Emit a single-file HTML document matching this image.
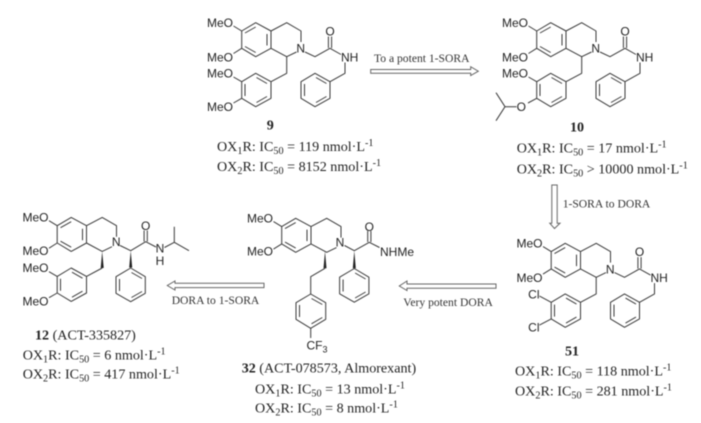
<!DOCTYPE html>
<html>
<head>
<meta charset="utf-8">
<style>
html,body{margin:0;padding:0;background:#fff;width:701px;height:423px;overflow:hidden}
svg{display:block;filter:blur(0.4px)}
.b{fill:none;stroke:#3a3a3a;stroke-width:1;stroke-linejoin:round}
.a{fill:#fff;stroke:#666;stroke-width:1}
.s{font-family:"Liberation Sans",sans-serif;font-size:12px;fill:#222}
.t{font-family:"Liberation Serif",serif;font-size:14.1px;fill:#222}
.l{font-family:"Liberation Serif",serif;font-size:11.6px;fill:#333}
.n{font-weight:bold}
.u{font-size:10.2px}
</style>
</head>
<body>
<svg width="701" height="423" viewBox="0 0 701 423" xmlns="http://www.w3.org/2000/svg">
<defs>
<g id="core" class="b">
<path d="M241.7 31L255.7 22.7L271 31L271 48.3L255.7 56.7L241.7 48.3Z"/>
<path d="M245 33L255.7 27M267 34L267 45.5M245 46.5L255.7 52.5"/>
<path d="M271 31L286.7 22.7L301 31L301 42M296.5 52L286.7 56.7L271 48.3"/>
<path d="M233.5 26L241.7 31M233.5 53.5L241.7 48.3"/>
</g>
<g id="ringC" class="b">
<path d="M271 81.7L255.7 73.3L241.7 81.7L241.7 98.3L255.7 106.7L271 98.3Z"/>
<path d="M245 84L245 96M256.5 77.5L267 83.5M256.5 102.5L267 96.5"/>
</g>
<g id="arm" class="b"><path d="M286.7 56.7L286.7 73.3L271 81.7"/></g>
<g id="tail" class="b">
<path d="M305 52L315 56.7L330 48.3L341 54.5"/>
<path d="M328.4 48L328.4 36.5M331.6 48L331.6 36.5"/>
<path d="M345 62.5L345 73.3L330 81.7"/>
<path d="M330 81.7L315 73.3L301 81.7L301 98.3L315 106.7L330 98.3Z"/>
<path d="M304.5 84L304.5 96M316 77.5L326.5 83.5M316 102.5L326.5 96.5"/>
</g>
<g id="ph" class="b">
<path d="M145.3 276.7L130.7 268L116 276.7L116 293.3L130.7 301.7L145.3 293.3Z"/>
<path d="M119.5 279L119.5 291M131.5 272.5L142 278.5M131.5 297.5L142 291.5"/>
</g>
</defs>

<!-- compound 9 -->
<use href="#core"/><use href="#ringC"/><use href="#arm"/><use href="#tail"/>
<path class="b" d="M233.5 77L241.7 81.7M233.5 103L241.7 98.3"/>
<text class="s" x="233" y="27" text-anchor="end">MeO</text>
<text class="s" x="233" y="61.5" text-anchor="end">MeO</text>
<text class="s" x="233" y="77.5" text-anchor="end">MeO</text>
<text class="s" x="233" y="111" text-anchor="end">MeO</text>
<text class="s" x="300.7" y="52.7" text-anchor="middle">N</text>
<text class="s" x="330" y="35.4" text-anchor="middle">O</text>
<text class="s" x="341" y="61.5">NH</text>

<!-- compound 10 -->
<g transform="translate(295 0)">
<use href="#core"/><use href="#ringC"/><use href="#arm"/><use href="#tail"/>
<path class="b" d="M233.5 77L241.7 81.7M233 103L241.7 98.3"/>
<path class="b" d="M221.5 106.7L210 106.7L201 92.7M210 106.7L201 120.7"/>
<text class="s" x="233" y="27" text-anchor="end">MeO</text>
<text class="s" x="233" y="61.5" text-anchor="end">MeO</text>
<text class="s" x="233" y="77.5" text-anchor="end">MeO</text>
<text class="s" x="226.3" y="111" text-anchor="middle">O</text>
<text class="s" x="300.7" y="52.7" text-anchor="middle">N</text>
<text class="s" x="330" y="35.4" text-anchor="middle">O</text>
<text class="s" x="341" y="61.5">NH</text>
</g>

<!-- compound 51 -->
<g transform="translate(309.5 220.6)">
<use href="#core"/><use href="#ringC"/><use href="#arm"/><use href="#tail"/>
<path class="b" d="M230 75.5L241.7 81.7M230 104.5L241.7 98.3"/>
<text class="s" x="233" y="27" text-anchor="end">MeO</text>
<text class="s" x="233" y="61.5" text-anchor="end">MeO</text>
<text class="s" x="230" y="78" text-anchor="end">Cl</text>
<text class="s" x="230" y="111" text-anchor="end">Cl</text>
<text class="s" x="300.7" y="52.7" text-anchor="middle">N</text>
<text class="s" x="330" y="35.4" text-anchor="middle">O</text>
<text class="s" x="341" y="61.5">NH</text>
</g>

<!-- compound 12 -->
<g transform="translate(-184.5 194.7)">
<use href="#core"/><use href="#ringC"/>
<path class="b" d="M233.5 77L241.7 81.7M233.5 103L241.7 98.3"/>
<path d="M285.2 73.3L286.7 56.7L288.2 73.3Z" fill="#222"/>
<path class="b" d="M286.7 73.3L271 81.7"/>
<text class="s" x="233" y="27" text-anchor="end">MeO</text>
<text class="s" x="233" y="60.5" text-anchor="end">MeO</text>
<text class="s" x="233" y="77.5" text-anchor="end">MeO</text>
<text class="s" x="233" y="111" text-anchor="end">MeO</text>
<text class="s" x="300.7" y="51.5" text-anchor="middle">N</text>
</g>
<use href="#ph"/>
<path class="b" d="M120 245.5L130.7 250.7L145.7 241.7L156 247"/>
<path class="b" d="M144.1 241.5L144.1 230.5M147.3 241.5L147.3 230.5"/>
<path d="M129.2 267.5L130.7 250.7L132.2 267.5Z" fill="#222"/>
<path class="b" d="M164.5 247.5L174.3 242.3L174.3 226.7M174.3 242.3L189 250.7"/>
<text class="s" x="145.7" y="230" text-anchor="middle">O</text>
<text class="s" x="160" y="252.6" text-anchor="middle">N</text>
<text class="s" x="160" y="265" text-anchor="middle">H</text>

<!-- compound 32 -->
<g transform="translate(40 195.6)">
<use href="#core"/>
<path d="M283.5 72.7L285 55.6L286.5 72.7Z" fill="#222"/>
<text class="s" x="233" y="27" text-anchor="end">MeO</text>
<text class="s" x="233" y="60" text-anchor="end">MeO</text>
<text class="s" x="300" y="51" text-anchor="middle">N</text>
</g>
<g transform="translate(223.6 0.5)"><use href="#ph"/></g>
<path class="b" d="M344.5 245.5L354.3 250.7L369.3 242.3L379.5 247.5"/>
<path class="b" d="M367.7 242L367.7 231M370.9 242L370.9 231"/>
<path d="M352.8 268.3L354.3 250.7L355.8 268.3Z" fill="#222"/>
<path class="b" d="M325 268.3L310.7 276.7L310.7 294"/>
<path class="b" d="M310.7 294L325.7 302.7L325.7 319.3L310.7 328.3L296 319.3L296 302.7Z"/>
<path class="b" d="M299.5 305L299.5 317M311.5 298.5L322.3 304.5M311.5 323.8L322.3 317.5"/>
<path class="b" d="M310.7 328.3L310.7 338"/>
<text class="s" x="369.3" y="231" text-anchor="middle">O</text>
<text class="s" x="380" y="256">NHMe</text>
<text class="s" x="306.5" y="349.5">CF<tspan font-size="9" dy="3">3</tspan></text>

<!-- arrows -->
<path class="a" d="M370.7 69.5L470.7 69.5L470.7 66.7L478.3 71.2L470.7 75.5L470.7 73.2L370.7 73.2Z"/>
<path class="a" d="M551.8 185L557.2 185L557.2 223.3L560 223.3L554.5 228.5L549.8 223.3L551.8 223.3Z"/>
<path class="a" d="M496 284L407 284L407 281L399.3 286L407 290.5L407 288.3L496 288.3Z"/>
<path class="a" d="M264 283.3L175 283.3L175 281L167.3 285.5L175 290L175 287.6L264 287.6Z"/>

<!-- arrow labels -->
<text class="l" x="374" y="62">To a potent 1-SORA</text>
<text class="l" x="562.7" y="207.3">1-SORA to DORA</text>
<text class="l" x="403.3" y="306">Very potent DORA</text>
<text class="l" x="171.7" y="304">DORA to 1-SORA</text>

<!-- labels -->
<text class="t n" x="266.7" y="129.5">9</text>
<text class="t" x="217" y="151">OX<tspan class="u" dy="3">1</tspan><tspan dy="-3">R: IC</tspan><tspan class="u" dy="3">50</tspan><tspan dy="-3"> = 119 nmol·L</tspan><tspan class="u" dy="-5">-1</tspan></text>
<text class="t" x="217" y="171">OX<tspan class="u" dy="3">2</tspan><tspan dy="-3">R: IC</tspan><tspan class="u" dy="3">50</tspan><tspan dy="-3"> = 8152 nmol·L</tspan><tspan class="u" dy="-5">-1</tspan></text>

<text class="t n" x="570" y="131.7">10</text>
<text class="t" x="516.7" y="152.3">OX<tspan class="u" dy="3">1</tspan><tspan dy="-3">R: IC</tspan><tspan class="u" dy="3">50</tspan><tspan dy="-3"> = 17 nmol·L</tspan><tspan class="u" dy="-5">-1</tspan></text>
<text class="t" x="516.7" y="173.3">OX<tspan class="u" dy="3">2</tspan><tspan dy="-3">R: IC</tspan><tspan class="u" dy="3">50</tspan><tspan dy="-3"> &gt; 10000 nmol·L</tspan><tspan class="u" dy="-5">-1</tspan></text>

<text class="t n" x="565" y="355.7">51</text>
<text class="t" x="515" y="375.7">OX<tspan class="u" dy="3">1</tspan><tspan dy="-3">R: IC</tspan><tspan class="u" dy="3">50</tspan><tspan dy="-3"> = 118 nmol·L</tspan><tspan class="u" dy="-5">-1</tspan></text>
<text class="t" x="515" y="395.7">OX<tspan class="u" dy="3">2</tspan><tspan dy="-3">R: IC</tspan><tspan class="u" dy="3">50</tspan><tspan dy="-3"> = 281 nmol·L</tspan><tspan class="u" dy="-5">-1</tspan></text>

<text class="t" x="35" y="339.3"><tspan class="n">12</tspan> (ACT-335827)</text>
<text class="t" x="22.7" y="359.3">OX<tspan class="u" dy="3">1</tspan><tspan dy="-3">R: IC</tspan><tspan class="u" dy="3">50</tspan><tspan dy="-3"> = 6 nmol·L</tspan><tspan class="u" dy="-5">-1</tspan></text>
<text class="t" x="22.7" y="378.3">OX<tspan class="u" dy="3">2</tspan><tspan dy="-3">R: IC</tspan><tspan class="u" dy="3">50</tspan><tspan dy="-3"> = 417 nmol·L</tspan><tspan class="u" dy="-5">-1</tspan></text>

<text class="t" x="241.7" y="372.7"><tspan class="n">32</tspan> (ACT-078573, Almorexant)</text>
<text class="t" x="255" y="393.3">OX<tspan class="u" dy="3">1</tspan><tspan dy="-3">R: IC</tspan><tspan class="u" dy="3">50</tspan><tspan dy="-3"> = 13 nmol·L</tspan><tspan class="u" dy="-5">-1</tspan></text>
<text class="t" x="255" y="412.7">OX<tspan class="u" dy="3">2</tspan><tspan dy="-3">R: IC</tspan><tspan class="u" dy="3">50</tspan><tspan dy="-3"> = 8 nmol·L</tspan><tspan class="u" dy="-5">-1</tspan></text>
</svg>
</body>
</html>
